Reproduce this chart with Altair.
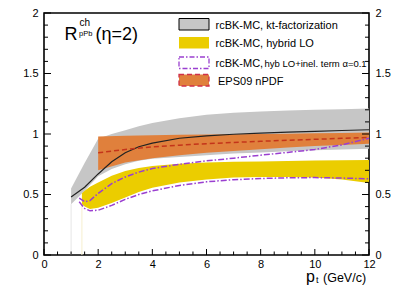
import altair as alt
import pandas as pd

# ---- data ----
kt_x   = [1, 1.5, 2, 2.5, 3, 3.5, 4, 5, 6, 7, 8, 9, 10, 11, 12]
kt_hi  = [0.55, 0.76, 0.96, 1.0, 1.03, 1.065, 1.09, 1.13, 1.16, 1.175, 1.185, 1.195, 1.2, 1.205, 1.21]
kt_lo  = [0.42, 0.53, 0.65, 0.71, 0.75, 0.778, 0.795, 0.81, 0.825, 0.838, 0.848, 0.857, 0.865, 0.872, 0.878]
kt_mid = [0.48, 0.56, 0.67, 0.77, 0.845, 0.895, 0.925, 0.965, 0.985, 0.998, 1.008, 1.015, 1.022, 1.029, 1.035]

eps_x   = [2, 3, 4, 5, 6, 7, 8, 9, 10, 11, 12]
eps_hi  = [0.98, 0.985, 0.99, 0.993, 0.996, 0.998, 1.0, 1.003, 1.006, 1.009, 1.012]
eps_lo  = [0.70, 0.765, 0.80, 0.825, 0.845, 0.86, 0.875, 0.888, 0.90, 0.91, 0.92]
eps_mid = [0.845, 0.872, 0.893, 0.908, 0.92, 0.93, 0.94, 0.948, 0.956, 0.964, 0.972]

hyb_x  = [1.4, 1.5, 1.7, 2, 2.5, 3, 3.5, 4, 5, 6, 7, 8, 9, 10, 11, 12]
hyb_hi = [0.51, 0.53, 0.565, 0.60, 0.655, 0.695, 0.72, 0.735, 0.755, 0.765, 0.77, 0.772, 0.776, 0.78, 0.783, 0.785]
hyb_lo = [0.42, 0.40, 0.38, 0.39, 0.43, 0.475, 0.52, 0.555, 0.60, 0.625, 0.64, 0.645, 0.645, 0.64, 0.625, 0.595]

inel_x  = [1.3, 1.5, 1.7, 2, 2.5, 3, 3.5, 4, 5, 6, 7, 8, 9, 10, 11, 12]
inel_hi = [0.47, 0.44, 0.45, 0.51, 0.59, 0.645, 0.685, 0.715, 0.75, 0.778, 0.80, 0.825, 0.848, 0.872, 0.91, 0.965]
inel_lo = [0.44, 0.385, 0.365, 0.37, 0.41, 0.46, 0.50, 0.53, 0.575, 0.605, 0.622, 0.632, 0.638, 0.64, 0.636, 0.63]

x_major = [0, 2, 4, 6, 8, 10, 12]
x_minor = [0.5, 1, 1.5, 2.5, 3, 3.5, 4.5, 5, 5.5, 6.5, 7, 7.5, 8.5, 9, 9.5, 10.5, 11, 11.5]
y_major = [0, 0.5, 1, 1.5, 2]
y_minor = [0.1, 0.2, 0.3, 0.4, 0.6, 0.7, 0.8, 0.9, 1.1, 1.2, 1.3, 1.4, 1.6, 1.7, 1.8, 1.9]

legend_labels = ["rcBK-MC, kt-factorization", "rcBK-MC, hybrid LO",
                 "rcBK-MC, ", "hyb LO+inel. term α=0.1", "EPS09 nPDF"]

W, H = 325, 242
FONT = "Liberation Sans"
GRAY, YEL, ORA, RED, PUR = "#c6c6c6", "#ebcd00", "#e0803c", "#c4341a", "#9a3fd0"

xs = alt.Scale(domain=[0, 12], nice=False, zero=False)
ys = alt.Scale(domain=[0, 2], nice=False, zero=False)

def X(f="x", axis=None):
    return alt.X(f"{f}:Q", scale=xs, axis=axis)

def Y(f="y", axis=None):
    return alt.Y(f"{f}:Q", scale=ys, axis=axis)

kt = pd.DataFrame({"x": kt_x, "hi": kt_hi, "lo": kt_lo, "mid": kt_mid})
eps = pd.DataFrame({"x": eps_x, "hi": eps_hi, "lo": eps_lo, "mid": eps_mid})
hyb = pd.DataFrame({"x": hyb_x, "hi": hyb_hi, "lo": hyb_lo})
inel = pd.DataFrame({"x": inel_x, "hi": inel_hi, "lo": inel_lo})

faint = pd.DataFrame({"x": [kt_x[0], hyb_x[0]], "y0": [0, 0], "y1": [kt_lo[0], hyb_lo[0]],
                      "c": ["#e6e6e6", "#f6efcf"]})
faint_l = alt.Chart(faint).mark_rule(strokeWidth=1).encode(
    x=X(), y=Y("y0"), y2="y1:Q", color=alt.Color("c:N", scale=None))

gray_a = alt.Chart(kt).mark_area(color=GRAY, opacity=1).encode(x=X(), y=Y("lo"), y2="hi:Q")
ora_a = alt.Chart(eps).mark_area(color=ORA, opacity=1).encode(x=X(), y=Y("lo"), y2="hi:Q")
yel_a = alt.Chart(hyb).mark_area(color=YEL, opacity=1).encode(x=X(), y=Y("lo"), y2="hi:Q")
kt_l = alt.Chart(kt).mark_line(color="#222222", strokeWidth=1.2).encode(x=X(), y=Y("mid"))
eps_l = alt.Chart(eps).mark_line(color=RED, strokeWidth=1.5, strokeDash=[5, 3]).encode(x=X(), y=Y("mid"))
dd = [6, 2, 1.5, 2]
in_hi = alt.Chart(inel).mark_line(color=PUR, strokeWidth=1.5, strokeDash=dd).encode(x=X(), y=Y("hi"))
in_lo = alt.Chart(inel).mark_line(color=PUR, strokeWidth=1.5, strokeDash=dd).encode(x=X(), y=Y("lo"))

# axes (labels) and inward ticks
lab = dict(labelFont=FONT, labelFontSize=11, labelColor="black", ticks=False, domain=False, grid=False,
           title=None, labelFlush=False, labelOverlap=False)
ymaj = pd.DataFrame({"y": y_major})
ymin = pd.DataFrame({"y": y_minor})
xmaj = pd.DataFrame({"x": x_major})
xmin = pd.DataFrame({"x": x_minor})

left_t = alt.Chart(ymaj).mark_rule(color="black", strokeWidth=1).encode(
    y=Y("y", alt.Axis(orient="left", values=y_major, labelPadding=6, format="~g", **lab)),
    x=alt.value(0), x2=alt.value(7))
right_t = alt.Chart(ymaj).mark_rule(color="black", strokeWidth=1).encode(
    y=Y("y", alt.Axis(orient="right", values=y_major, labelPadding=6, format="~g", **lab)),
    x=alt.value(W - 7), x2=alt.value(W))
left_m = alt.Chart(ymin).mark_rule(color="black", strokeWidth=1).encode(
    y=Y("y"), x=alt.value(0), x2=alt.value(4))
right_m = alt.Chart(ymin).mark_rule(color="black", strokeWidth=1).encode(
    y=Y("y"), x=alt.value(W - 4), x2=alt.value(W))
bot_t = alt.Chart(xmaj).mark_rule(color="black", strokeWidth=1).encode(
    x=X("x", alt.Axis(orient="bottom", values=x_major, labelPadding=3, **lab)),
    y=alt.value(H), y2=alt.value(H - 6))
bot_m = alt.Chart(xmin).mark_rule(color="black", strokeWidth=1).encode(
    x=X("x"), y=alt.value(H), y2=alt.value(H - 3.5))

one = pd.DataFrame({"a": [0]})

def txt(s, x, y, size, align="left", baseline="alphabetic"):
    return alt.Chart(one).mark_text(text=s, font=FONT, fontSize=size, color="black",
                                    align=align, baseline=baseline).encode(
        x=alt.value(x), y=alt.value(y))

def box(y0, fill, stroke=None, dash=None, sw=1.0):
    kw = dict(fill=fill)
    if stroke:
        kw.update(stroke=stroke, strokeWidth=sw)
    if dash:
        kw.update(strokeDash=dash)
    return alt.Chart(one).mark_rect(**kw).encode(
        x=alt.value(135), x2=alt.value(165), y=alt.value(y0), y2=alt.value(y0 + 11.5))

legend = [
    box(5.5, GRAY, "black", None, 1),
    box(24, YEL),
    box(44, "white", PUR, [5, 2, 1.5, 2], 1.3),
    box(61.5, ORA, "#d0304a", [5, 3], 1.3),
    txt(legend_labels[0], 171.5, 15.5, 11),
    txt(legend_labels[1], 171.5, 34, 11),
    txt(legend_labels[2], 171.5, 54, 11),
    txt(legend_labels[3], 220.5, 54, 9.5),
    txt(legend_labels[4], 174, 72, 11),
]

title = [
    txt("R", 20.5, 26.5, 18),
    txt("ch", 35.5, 12.5, 10),
    txt("pPb", 35, 23, 7.5),
    txt("(η=2)", 51.5, 26.5, 18),
    txt("p", 262, 269, 16),
    txt("t", 272, 269.5, 9),
    txt("(GeV/c)", 279, 269, 12.5),
]

chart = alt.layer(
    bot_t, faint_l, gray_a, ora_a, yel_a, kt_l, eps_l, in_hi, in_lo,
    left_t, right_t, left_m, right_m, bot_m,
    *legend, *title
).resolve_axis(x="independent", y="independent").properties(
    width=W, height=H,
    autosize=alt.AutoSizeParams(type="none"),
    padding={"left": 36, "top": 5, "right": 30, "bottom": 34},
).configure_view(stroke="black", strokeWidth=1.6)

chart.save("out.html", embed_options={"renderer": "svg", "actions": False})
